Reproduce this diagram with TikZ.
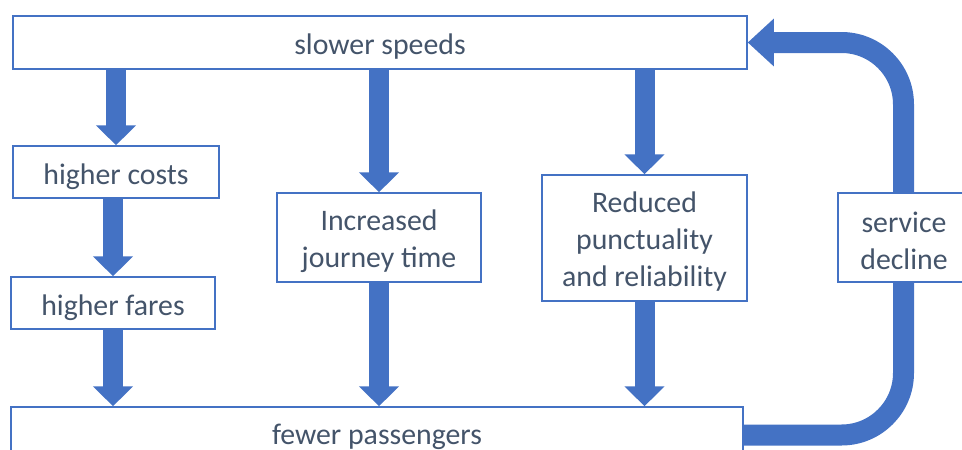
\documentclass[tikz,border=0pt]{standalone}
\usepackage{fontspec}
\setmainfont{Carlito}
\usetikzlibrary{arrows.meta}
\definecolor{boxblue}{HTML}{4472C4}
\definecolor{txtcol}{HTML}{44546A}
\pgfdeclarelayer{background}
\pgfsetlayers{background,main}
\newcommand\lift[1]{\rule{0pt}{#1}}
\begin{document}
\begin{tikzpicture}[x=1pt,y=-1pt,
  box/.style={draw=boxblue, line width=1.5pt, fill=white, text=txtcol,
    font=\fontsize{29.8}{37}\selectfont, align=center, inner sep=0pt},
  flow/.style={draw=boxblue, line width=20pt, -{Triangle[length=20pt,width=39pt]}},
  loopflow/.style={draw=boxblue, line width=21pt, rounded corners=62pt,
    -{Triangle[length=26pt,width=46pt]}}]
\useasboundingbox (0,0) rectangle (962,450);
\clip (0,0) rectangle (962,450);
\node[box, minimum width=734pt, minimum height=53pt] (ss) at (380,42.5) {\lift{28pt}slower speeds};
\node[box, minimum width=206pt, minimum height=52pt] (hc) at (116,172) {\lift{29.5pt}higher costs};
\node[box, minimum width=204pt, minimum height=52pt] (hf) at (113,303) {\lift{29.5pt}higher fares};
\node[box, minimum width=204pt, minimum height=89pt] (ij) at (379,237.5) {\lift{27.5pt}Increased\\journey time};
\node[box, minimum width=205pt, minimum height=126pt] (rp) at (644.5,238) {\lift{28pt}Reduced\\punctuality\\and reliability};
\node[box, minimum width=132pt, minimum height=89pt] (sd) at (904,237.5) {\lift{27.5pt}service\\decline};
\node[box, minimum width=732pt, minimum height=56pt] (fp) at (377,435) {\lift{25pt}fewer passengers};
\coordinate (c1) at (903.5,435);
\coordinate (c2) at (903.5,42.5);
\begin{pgfonlayer}{background}
\draw[flow] (ss.south -| hc.north) -- (hc.north);
\draw[flow] (hc.south -| hf.north) -- (hf.north);
\draw[flow] (hf.south) -- (hf.south |- fp.north);
\draw[flow] (ss.south -| ij.north) -- (ij.north);
\draw[flow] (ij.south) -- (ij.south |- fp.north);
\draw[flow] (ss.south -| rp.north) -- (rp.north);
\draw[flow] (rp.south) -- (rp.south |- fp.north);
\draw[loopflow] (fp.east) -- (c1) -- (c2) -- (ss.east);
\end{pgfonlayer}
\end{tikzpicture}
\end{document}
